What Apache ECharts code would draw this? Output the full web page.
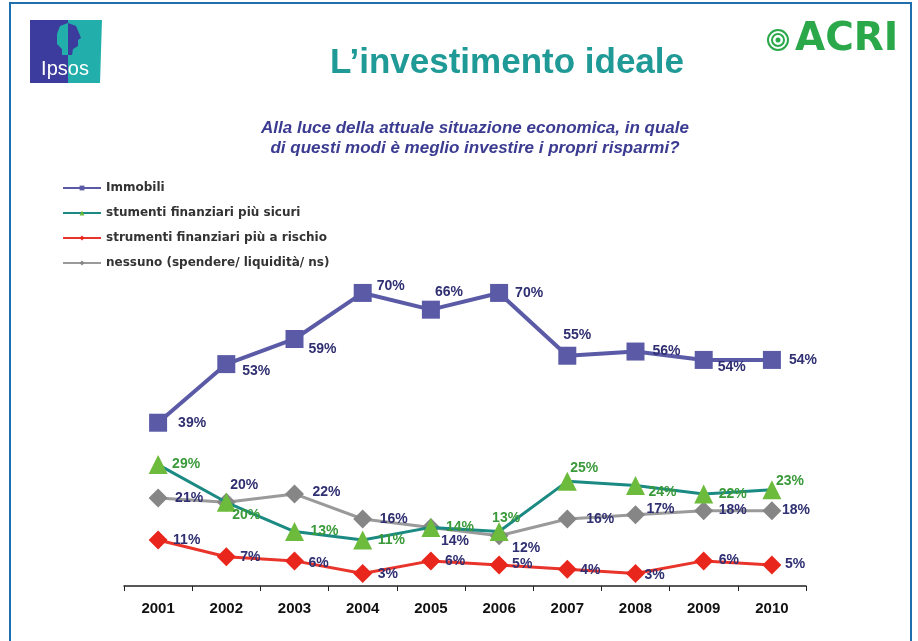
<!DOCTYPE html>
<html>
<head>
<meta charset="utf-8">
<script src="https://cdn.jsdelivr.net/npm/echarts@6/dist/echarts.min.js"></script>
<style>
  html, body { margin: 0; padding: 0; background: #fff; }
  #chart { width: 918px; height: 641px; }
</style>
</head>
<body>
<div id="chart"></div>
<script>
// anni
const years = ['2001', '2002', '2003', '2004', '2005', '2006', '2007', '2008', '2009', '2010'];

// valori in %
const immobili = [39, 53, 59, 70, 66, 70, 55, 56, 54, 54];
const sicuri   = [29, 20, 13, 11, 14, 13, 25, 24, 22, 23];
const rischio  = [11, 7, 6, 3, 6, 5, 4, 3, 6, 5];
const nessuno  = [21, 20, 22, 16, 14, 12, 16, 17, 18, 18];

const seriesNames = [
  'Immobili',
  'stumenti finanziari più sicuri',
  'strumenti finanziari più a rischio',
  'nessuno (spendere/ liquidità/ ns)'
];

// spostamento etichette [dx, dy] rispetto al punto
const offImm = [[20, 0], [16, 7], [14, 10], [14, -7], [4, -18], [16, 0], [-4, -21], [17, 0], [14, 7], [17, 0]];
const offSic = [[14, 0], [6, 13], [16, 0], [15, 0], [15, 0], [-7, -13], [3, -13], [13, 7], [15, 0], [4, -9]];
const offRis = [[15, 0], [14, 0], [14, 2], [15, 1], [14, 0], [13, -1], [13, 1], [9, 2], [15, -1], [13, -1]];
const offNes = [[17, 0], [4, -17], [18, -2], [17, 0], [10, 14], [13, 12], [19, 0], [11, -6], [15, 0], [10, 0]];

const navy = '#2f2f72';
const font = '"Liberation Sans", Arial, sans-serif';

const buildData = (values, offsets, labelColor) => values.map((v, i) => ({
  value: v,
  label: {
    show: true,
    position: 'inside',
    align: 'left',
    verticalAlign: 'middle',
    offset: offsets[i],
    formatter: '{c}%',
    color: labelColor,
    fontFamily: font,
    fontWeight: 'bold',
    fontSize: 14
  }
}));

const chart = echarts.init(document.getElementById('chart'));

const option = {
  backgroundColor: '#ffffff',
  animation: false,
  graphic: [
    // cornice
    { type: 'rect', shape: { x: 10, y: 3, width: 901, height: 700 }, style: { fill: 'none', stroke: '#1f6fae', lineWidth: 2 }, z: -1 },
    // logo Ipsos
    { type: 'rect', shape: { x: 30, y: 20, width: 40, height: 63 }, style: { fill: '#3c3c9e' } },
    { type: 'polygon', shape: { points: [[68, 20], [102, 20], [100, 83], [68, 83]] }, style: { fill: '#22aeaa' } },
    { type: 'polygon', shape: { points: [[57, 34], [60, 26], [68, 23], [76, 26], [79, 33], [81, 38], [78, 40], [78, 46], [73, 49], [72, 55], [62, 55], [62, 49], [57, 44]] }, style: { fill: '#22aeaa' } },
    { type: 'polygon', shape: { points: [[68, 23], [76, 26], [79, 33], [81, 38], [78, 40], [78, 46], [73, 49], [72, 55], [68, 55]] }, style: { fill: '#3c3c9e' } },
    { type: 'text', style: { x: 65, y: 69, text: 'Ipsos', fill: '#ffffff', font: '20px ' + font, align: 'center', verticalAlign: 'middle' } },
    // logo ACRI
    { type: 'circle', shape: { cx: 778, cy: 40, r: 10 }, style: { fill: 'none', stroke: '#2aa84a', lineWidth: 2 } },
    { type: 'circle', shape: { cx: 778, cy: 40, r: 6 }, style: { fill: 'none', stroke: '#2aa84a', lineWidth: 2 } },
    { type: 'circle', shape: { cx: 778, cy: 40, r: 2.5 }, style: { fill: '#2aa84a' } },
    { type: 'text', style: { x: 795, y: 40, text: 'ACRI', fill: '#2aa84a', font: 'bold 39px "DejaVu Sans", sans-serif', align: 'left', verticalAlign: 'middle' } },
    // titolo
    { type: 'text', style: { x: 507, y: 63, text: 'L\u2019investimento ideale', fill: '#1f9a96', font: 'bold 35px ' + font, align: 'center', verticalAlign: 'middle' } },
    // domanda
    { type: 'text', style: { x: 475, y: 128, text: 'Alla luce della attuale situazione economica, in quale', fill: '#3b3b92', font: 'italic bold 17px ' + font, align: 'center', verticalAlign: 'middle' } },
    { type: 'text', style: { x: 475, y: 148, text: 'di questi modi è meglio investire i propri risparmi?', fill: '#3b3b92', font: 'italic bold 17px ' + font, align: 'center', verticalAlign: 'middle' } }
  ],
  legend: {
    orient: 'vertical',
    left: 57,
    top: 177,
    itemWidth: 38,
    itemHeight: 6,
    itemGap: 13,
    data: seriesNames,
    textStyle: {
      fontFamily: '"DejaVu Sans", sans-serif',
      fontSize: 12,
      fontWeight: 'bold',
      color: '#333333'
    }
  },
  grid: {
    left: 124,
    right: 112,
    top: 272,
    bottom: 55
  },
  xAxis: {
    type: 'category',
    data: years,
    boundaryGap: true,
    axisLine: { lineStyle: { color: '#222222', width: 1.5 } },
    axisTick: { show: true, length: 5, lineStyle: { color: '#222222' } },
    axisLabel: {
      color: '#111111',
      fontFamily: font,
      fontWeight: 'bold',
      fontSize: 15,
      margin: 15
    }
  },
  yAxis: {
    type: 'value',
    min: 0,
    max: 75,
    show: false,
    splitLine: { show: false }
  },
  series: [
    {
      name: seriesNames[0],
      type: 'line',
      data: buildData(immobili, offImm, navy),
      symbol: 'rect',
      symbolSize: 18,
      lineStyle: { color: '#5a5aa6', width: 4 },
      itemStyle: { color: '#5a5aa6' },
      z: 4
    },
    {
      name: seriesNames[1],
      type: 'line',
      data: buildData(sicuri, offSic, '#3a9a3a'),
      symbol: 'triangle',
      symbolSize: 19,
      lineStyle: { color: '#1a8a82', width: 3 },
      itemStyle: { color: '#6cbb3c' },
      z: 3
    },
    {
      name: seriesNames[2],
      type: 'line',
      data: buildData(rischio, offRis, navy),
      symbol: 'diamond',
      symbolSize: 19,
      lineStyle: { color: '#e8342a', width: 3 },
      itemStyle: { color: '#e8261c' },
      z: 3
    },
    {
      name: seriesNames[3],
      type: 'line',
      data: buildData(nessuno, offNes, navy),
      symbol: 'diamond',
      symbolSize: 19,
      lineStyle: { color: '#9a9a9a', width: 3 },
      itemStyle: { color: '#868686' },
      z: 2
    }
  ]
};

chart.setOption(option);
</script>
</body>
</html>
